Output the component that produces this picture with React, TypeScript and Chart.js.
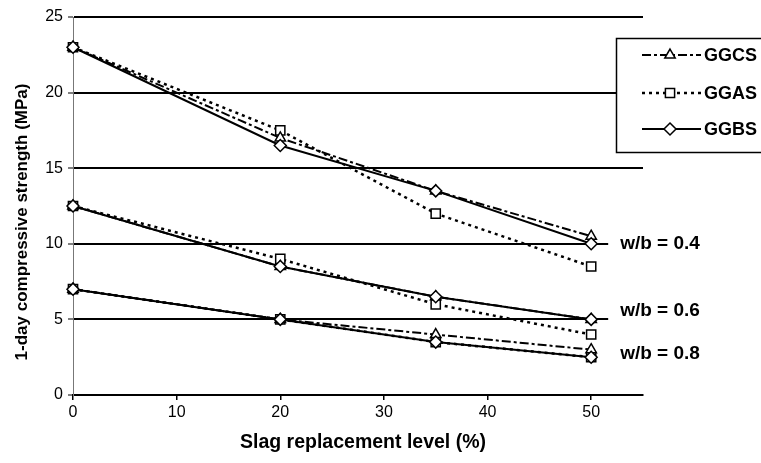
import React, { useEffect, useRef } from 'react';
import { Chart, registerables } from 'chart.js';

Chart.register(...registerables);

// ---- data ----
const slagLevels = [0, 20, 35, 50];
const xTickValues = [0, 10, 20, 30, 40, 50];
const yTickValues = [0, 5, 10, 15, 20, 25];
const seriesNames = ['GGCS', 'GGAS', 'GGBS'];
const wbLabels = ['w/b = 0.4', 'w/b = 0.6', 'w/b = 0.8'];
const xTitle = 'Slag replacement level (%)';
const yTitle = '1-day compressive strength (MPa)';

const ggcsWb04 = [23, 17, 13.5, 10.5];
const ggcsWb06 = [12.5, 8.5, 6.5, 5];
const ggcsWb08 = [7, 5, 4, 3];

const ggasWb04 = [23, 17.5, 12, 8.5];
const ggasWb06 = [12.5, 9, 6, 4];
const ggasWb08 = [7, 5, 3.5, 2.5];

const ggbsWb04 = [23, 16.5, 13.5, 10];
const ggbsWb06 = [12.5, 8.5, 6.5, 5];
const ggbsWb08 = [7, 5, 3.5, 2.5];

const FONT = "'Liberation Sans', Arial, Helvetica, sans-serif";

type Style = { dash: number[]; width: number; point: string; radius: number };
const styles: Record<string, Style> = {
  GGCS: { dash: [9, 3, 3, 3], width: 2, point: 'triangle', radius: 6 },
  GGAS: { dash: [3, 4], width: 2.5, point: 'rect', radius: 6.5 },
  GGBS: { dash: [], width: 2, point: 'rectRot', radius: 6 },
};

const seriesValues: Record<string, number[][]> = {
  GGBS: [ggbsWb04, ggbsWb06, ggbsWb08],
  GGCS: [ggcsWb04, ggcsWb06, ggcsWb08],
  GGAS: [ggasWb04, ggasWb06, ggasWb08],
};

function drawMarker(ctx: CanvasRenderingContext2D, kind: string, x: number, y: number, r: number) {
  ctx.save();
  ctx.setLineDash([]);
  ctx.fillStyle = '#fff';
  ctx.strokeStyle = '#000';
  ctx.lineWidth = 1.5;
  ctx.beginPath();
  if (kind === 'triangle') {
    const w = r * Math.sqrt(3) / 2;
    ctx.moveTo(x, y - r);
    ctx.lineTo(x + w, y + r / 2);
    ctx.lineTo(x - w, y + r / 2);
    ctx.closePath();
  } else if (kind === 'rect') {
    const s = r * Math.SQRT1_2;
    ctx.rect(x - s, y - s, 2 * s, 2 * s);
  } else {
    ctx.moveTo(x, y - r);
    ctx.lineTo(x + r, y);
    ctx.lineTo(x, y + r);
    ctx.lineTo(x - r, y);
    ctx.closePath();
  }
  ctx.fill();
  ctx.stroke();
  ctx.restore();
}

const decorPlugin = {
  id: 'decor',
  afterDraw(chart: any) {
    const { ctx, chartArea } = chart;
    const xs = chart.scales.x;
    const ys = chart.scales.y;
    ctx.save();
    // cover grid line ends next to the w/b labels
    const coverLeft = xs.getPixelForValue(50) + 17;
    ctx.fillStyle = '#fff';
    ctx.fillRect(coverLeft, ys.getPixelForValue(12.5), chartArea.right + 4 - coverLeft, ys.getPixelForValue(1) - ys.getPixelForValue(12.5));

    // w/b labels
    const labelVals = [10, 5.6, 2.7];
    ctx.fillStyle = '#000';
    ctx.font = `bold 19px ${FONT}`;
    ctx.textAlign = 'left';
    ctx.textBaseline = 'middle';
    wbLabels.forEach((t, i) => {
      ctx.fillText(t, xs.getPixelForValue(50) + 29, ys.getPixelForValue(labelVals[i]));
    });

    // axis titles
    ctx.fillStyle = '#000';
    ctx.textAlign = 'center';
    ctx.textBaseline = 'middle';
    ctx.font = `bold 19.5px ${FONT}`;
    ctx.fillText(xTitle, 363, 443);
    ctx.save();
    ctx.translate(22, 222);
    ctx.rotate(-Math.PI / 2);
    ctx.font = `bold 17px ${FONT}`;
    ctx.fillText(yTitle, 0, 0);
    ctx.restore();

    // legend box
    const bx = 616.5, by = 38.5, bw = 160, bh = 114;
    ctx.fillStyle = '#fff';
    ctx.fillRect(bx, by, bw, bh);
    ctx.strokeStyle = '#000';
    ctx.lineWidth = 1.5;
    ctx.strokeRect(bx, by, bw, bh);
    const rows = [55, 93, 129];
    seriesNames.forEach((name, i) => {
      const st = styles[name];
      const y = rows[i];
      ctx.save();
      ctx.strokeStyle = '#000';
      ctx.lineWidth = st.width;
      ctx.setLineDash(st.dash);
      ctx.beginPath();
      ctx.moveTo(642, y);
      ctx.lineTo(701, y);
      ctx.stroke();
      ctx.restore();
      drawMarker(ctx, st.point, 670, y, st.radius);
      ctx.fillStyle = '#000';
      ctx.font = `bold 18px ${FONT}`;
      ctx.textAlign = 'left';
      ctx.textBaseline = 'middle';
      ctx.fillText(name, 704, y + 1);
    });
    ctx.restore();
  },
};

export default function App() {
  const ref = useRef<HTMLCanvasElement | null>(null);

  useEffect(() => {
    if (!ref.current) return;
    const datasets: any[] = [];
    Object.keys(seriesValues).forEach((name) => {
      const st = styles[name];
      seriesValues[name].forEach((vals) => {
        datasets.push({
          label: name,
          data: slagLevels.map((x, i) => ({ x, y: vals[i] })),
          borderColor: '#000',
          borderWidth: st.width,
          borderDash: st.dash,
          pointStyle: st.point,
          pointRadius: st.radius,
          pointBackgroundColor: '#fff',
          pointBorderColor: '#000',
          pointBorderWidth: 1.5,
          fill: false,
          tension: 0,
          clip: false,
        });
      });
    });

    const chart = new Chart(ref.current, {
      type: 'line',
      data: { datasets },
      plugins: [decorPlugin],
      options: {
        responsive: false,
        animation: false,
        layout: { padding: { top: 17, right: 118, left: 0, bottom: 0 } },
        plugins: { legend: { display: false }, tooltip: { enabled: false } },
        scales: {
          x: {
            type: 'linear',
            min: 0,
            max: 55,
            afterBuildTicks: (s: any) => {
              s.ticks = xTickValues.map((v) => ({ value: v }));
            },
            ticks: { color: '#000', font: { family: FONT, size: 16 }, padding: 3, maxRotation: 0 },
            grid: { drawOnChartArea: false, drawTicks: true, tickLength: 5, color: '#000', lineWidth: 1.5 },
            border: { display: true, color: '#000', width: 2 },
            title: { display: false },
            afterFit: (s: any) => { s.height = 68; },
          },
          y: {
            min: 0,
            max: 25,
            afterBuildTicks: (s: any) => {
              s.ticks = yTickValues.map((v) => ({ value: v }));
            },
            ticks: { color: '#000', font: { family: FONT, size: 16 }, padding: 5 },
            grid: { color: '#000', lineWidth: 2, tickLength: 5, tickColor: '#000', tickWidth: 1 },
            border: { display: true, color: '#777', width: 1 },
            title: { display: false },
            afterFit: (s: any) => { s.width = 73; },
          },
        },
      } as any,
    });
    return () => chart.destroy();
  }, []);

  return (
    <div style={{ position: 'fixed', left: 0, top: 0, width: 761, height: 463, background: '#fff' }}>
      <canvas ref={ref} width={761} height={463} style={{ display: 'block' }} />
    </div>
  );
}
